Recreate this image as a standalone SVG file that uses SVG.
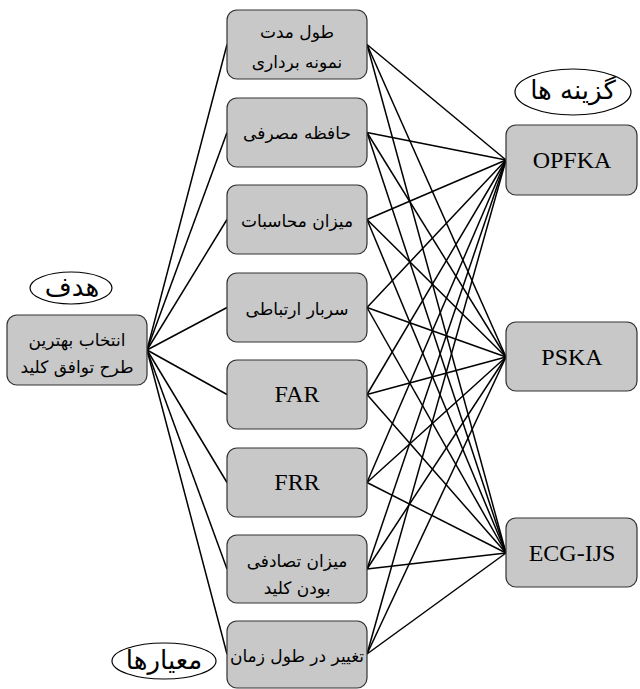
<svg xmlns="http://www.w3.org/2000/svg" width="640" height="689" viewBox="0 0 640 689">
<style>
.box{fill:#c8c8c8;stroke:#333;stroke-width:1.2}
.ell{fill:#fff;stroke:#000;stroke-width:1.2}
.fa{font-family:"DejaVu Sans","Noto Sans",sans-serif;font-size:17px;fill:#000;text-anchor:middle;dominant-baseline:central}
.fa-big{font-family:"DejaVu Sans","Noto Sans",sans-serif;font-size:26px;fill:#000;text-anchor:middle;dominant-baseline:central}
.en{font-family:"Liberation Serif","Times New Roman",serif;font-size:24px;font-weight:normal;fill:#000;text-anchor:middle;dominant-baseline:central}
.con line{stroke:#000;stroke-width:1.5}
</style>
<g id="connectors" class="con">
<line x1="147" y1="350" x2="227" y2="44.5"/>
<line x1="147" y1="350" x2="227" y2="132.5"/>
<line x1="147" y1="350" x2="227" y2="219.5"/>
<line x1="147" y1="350" x2="227" y2="307.5"/>
<line x1="147" y1="350" x2="227" y2="394.5"/>
<line x1="147" y1="350" x2="227" y2="482.5"/>
<line x1="147" y1="350" x2="227" y2="569"/>
<line x1="147" y1="350" x2="227" y2="654"/>
<line x1="367" y1="44.5" x2="506" y2="160"/>
<line x1="367" y1="44.5" x2="506" y2="357"/>
<line x1="367" y1="44.5" x2="506" y2="553"/>
<line x1="367" y1="132.5" x2="506" y2="160"/>
<line x1="367" y1="132.5" x2="506" y2="357"/>
<line x1="367" y1="132.5" x2="506" y2="553"/>
<line x1="367" y1="219.5" x2="506" y2="160"/>
<line x1="367" y1="219.5" x2="506" y2="357"/>
<line x1="367" y1="219.5" x2="506" y2="553"/>
<line x1="367" y1="307.5" x2="506" y2="160"/>
<line x1="367" y1="307.5" x2="506" y2="357"/>
<line x1="367" y1="307.5" x2="506" y2="553"/>
<line x1="367" y1="394.5" x2="506" y2="160"/>
<line x1="367" y1="394.5" x2="506" y2="357"/>
<line x1="367" y1="394.5" x2="506" y2="553"/>
<line x1="367" y1="482.5" x2="506" y2="160"/>
<line x1="367" y1="482.5" x2="506" y2="357"/>
<line x1="367" y1="482.5" x2="506" y2="553"/>
<line x1="367" y1="569" x2="506" y2="160"/>
<line x1="367" y1="569" x2="506" y2="357"/>
<line x1="367" y1="569" x2="506" y2="553"/>
<line x1="367" y1="654" x2="506" y2="160"/>
<line x1="367" y1="654" x2="506" y2="357"/>
<line x1="367" y1="654" x2="506" y2="553"/>
</g>
<g id="label-goal">
<ellipse class="ell" cx="71" cy="288" rx="41" ry="16"/>
<text class="fa-big" x="72" y="287">هدف</text>
</g>
<g id="goal">
<rect class="box" x="7" y="315" width="140" height="70" rx="10"/>
<text class="fa" x="77" y="340">انتخاب بهترین</text>
<text class="fa" x="77" y="367">طرح توافق کلید</text>
</g>
<g id="c1">
<rect class="box" x="227" y="10" width="140" height="69" rx="10"/>
<text class="fa" x="297" y="32">طول مدت</text>
<text class="fa" x="297" y="62">نمونه برداری</text>
</g>
<g id="c2">
<rect class="box" x="227" y="98" width="140" height="69" rx="10"/>
<text class="fa" x="297" y="133">حافظه مصرفی</text>
</g>
<g id="c3">
<rect class="box" x="227" y="185" width="140" height="69" rx="10"/>
<text class="fa" x="297" y="221">میزان محاسبات</text>
</g>
<g id="c4">
<rect class="box" x="227" y="273" width="140" height="69" rx="10"/>
<text class="fa" x="297" y="309">سربار ارتباطی</text>
</g>
<g id="c5">
<rect class="box" x="227" y="360" width="140" height="69" rx="10"/>
<text class="en" x="297" y="394">FAR</text>
</g>
<g id="c6">
<rect class="box" x="227" y="448" width="140" height="69" rx="10"/>
<text class="en" x="297" y="482">FRR</text>
</g>
<g id="c7">
<rect class="box" x="227" y="535" width="140" height="68" rx="10"/>
<text class="fa" x="297" y="561">میزان تصادفی</text>
<text class="fa" x="297" y="588">بودن کلید</text>
</g>
<g id="c8">
<rect class="box" x="227" y="621" width="140" height="67" rx="10"/>
<text class="fa" x="297" y="656">تغییر در طول زمان</text>
</g>
<g id="label-criteria">
<ellipse class="ell" cx="164" cy="661" rx="52" ry="18"/>
<text class="fa-big" x="164" y="660">معیارها</text>
</g>
<g id="label-alternatives">
<ellipse class="ell" cx="573" cy="92" rx="58" ry="23"/>
<text class="fa-big" x="573" y="90">گزینه ها</text>
</g>
<g id="a1">
<rect class="box" x="506" y="125" width="131" height="70" rx="10"/>
<text class="en" x="572" y="160">OPFKA</text>
</g>
<g id="a2">
<rect class="box" x="506" y="322" width="131" height="69" rx="10"/>
<text class="en" x="572" y="357">PSKA</text>
</g>
<g id="a3">
<rect class="box" x="506" y="518" width="131" height="69" rx="10"/>
<text class="en" x="572" y="553">ECG-IJS</text>
</g>
</svg>
